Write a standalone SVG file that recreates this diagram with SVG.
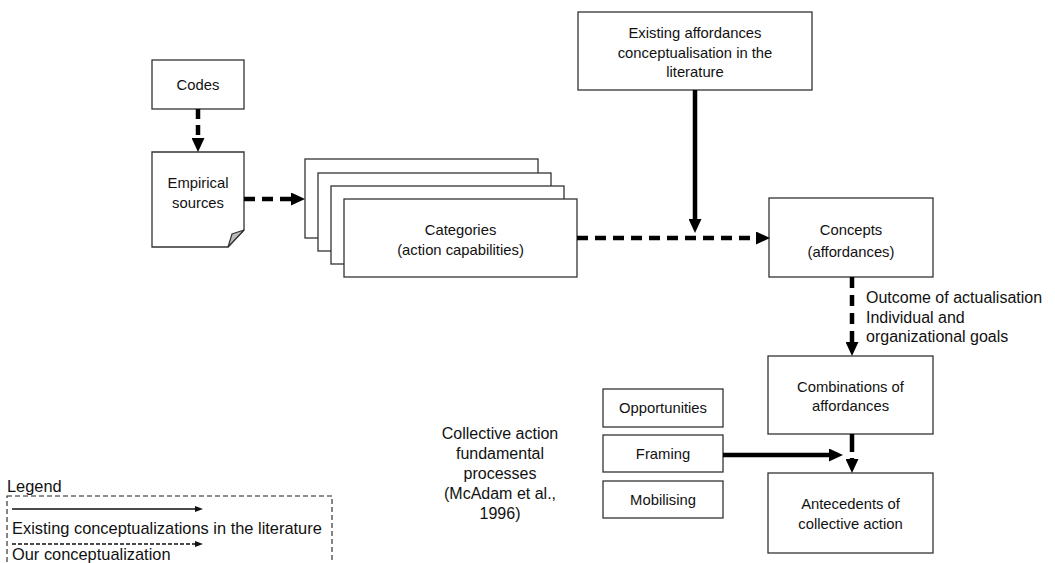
<svg xmlns="http://www.w3.org/2000/svg" width="1055" height="563" viewBox="0 0 1055 563">
<style>
.box{fill:#fff;stroke:#333;stroke-width:1.3}
.bt{font-family:"Liberation Sans",Arial,sans-serif;font-size:14.8px;fill:#111;text-anchor:middle}
.at{font-family:"Liberation Sans",Arial,sans-serif;font-size:16px;fill:#111}
.lt{font-size:16.4px}
.thick{fill:none;stroke:#000;stroke-width:4.5}
.dash{stroke-dasharray:11 7}
.thin{fill:none;stroke:#111;stroke-width:1.5}
</style>
<defs>
<marker id="ah" markerUnits="userSpaceOnUse" markerWidth="14" markerHeight="13" refX="4" refY="6.5" orient="auto">
<path d="M0,0 L14,6.5 L0,13 z" fill="#000"/>
</marker>
<marker id="ahs" markerUnits="userSpaceOnUse" markerWidth="8" markerHeight="6" refX="2" refY="3" orient="auto">
<path d="M0,0 L8,3 L0,6 z" fill="#111"/>
</marker>
</defs>
<rect width="1055" height="563" fill="#fff"/>

<g id="codes">
<rect class="box" x="152" y="60" width="92" height="49"/>
<text class="bt" x="198" y="90">Codes</text>
</g>

<g id="empirical">
<path class="box" d="M152,152 H244 V230 L228,247 H152 Z"/>
<path d="M244,230 L232,234 L228,247 Z" fill="#bbb" stroke="#333" stroke-width="1.2"/>
<text class="bt" x="198" y="188">Empirical</text>
<text class="bt" x="198" y="208">sources</text>
</g>

<g id="categories">
<rect class="box" x="305" y="159" width="233" height="79"/>
<rect class="box" x="318" y="173" width="233" height="78"/>
<rect class="box" x="331" y="186" width="233" height="78"/>
<rect class="box" x="344" y="199" width="233" height="78"/>
<text class="bt" x="460.5" y="235">Categories</text>
<text class="bt" x="460.5" y="255">(action capabilities)</text>
</g>

<g id="existing">
<rect class="box" x="578" y="12" width="234" height="78"/>
<text class="bt" x="695" y="38">Existing affordances</text>
<text class="bt" x="695" y="58">conceptualisation in the</text>
<text class="bt" x="695" y="77">literature</text>
</g>

<g id="concepts">
<rect class="box" x="769" y="198" width="164" height="79"/>
<text class="bt" x="851" y="235">Concepts</text>
<text class="bt" x="851" y="257">(affordances)</text>
</g>

<g id="combinations">
<rect class="box" x="768" y="356" width="165" height="78"/>
<text class="bt" x="850.5" y="392">Combinations of</text>
<text class="bt" x="850.5" y="411">affordances</text>
</g>

<g id="antecedents">
<rect class="box" x="768" y="473" width="165" height="80"/>
<text class="bt" x="850.5" y="509">Antecedents of</text>
<text class="bt" x="850.5" y="529">collective action</text>
</g>

<g id="opportunities">
<rect class="box" x="603" y="389" width="120" height="38"/>
<text class="bt" x="663" y="413">Opportunities</text>
</g>
<g id="framing">
<rect class="box" x="603" y="435" width="120" height="37"/>
<text class="bt" x="663" y="459">Framing</text>
</g>
<g id="mobilising">
<rect class="box" x="603" y="481" width="120" height="37"/>
<text class="bt" x="663" y="505">Mobilising</text>
</g>

<g id="collective-label">
<text class="at" text-anchor="middle" x="500" y="439">Collective action</text>
<text class="at" text-anchor="middle" x="500" y="459">fundamental</text>
<text class="at" text-anchor="middle" x="500" y="479">processes</text>
<text class="at" text-anchor="middle" x="500" y="499">(McAdam et al.,</text>
<text class="at" text-anchor="middle" x="500" y="519">1996)</text>
</g>

<g id="connectors">
<path class="thick" d="M198,109 V142" stroke-dasharray="10 6" marker-end="url(#ah)"/>
<path class="thick dash" d="M244,199 H295" marker-end="url(#ah)"/>
<path class="thick dash" d="M577,238 H760" marker-end="url(#ah)"/>
<path class="thick" d="M695,90 V223" marker-end="url(#ah)"/>
<path class="thick dash" d="M852,277 V346" marker-end="url(#ah)"/>
<text class="at" x="866" y="303">Outcome of actualisation</text>
<text class="at" x="866" y="323">Individual and</text>
<text class="at" x="866" y="342">organizational goals</text>
<path class="thick" d="M852,434 V463" stroke-dasharray="18 6" marker-end="url(#ah)"/>
<path class="thick" d="M723,455 H833" marker-end="url(#ah)"/>
</g>

<g id="legend">
<text class="at lt" x="7" y="492">Legend</text>
<rect x="7" y="496" width="325" height="72" fill="none" stroke="#222" stroke-width="1.1" stroke-dasharray="5 3"/>
<path class="thin" d="M12,509 H197" marker-end="url(#ahs)"/>
<text class="at lt" x="12" y="534">Existing conceptualizations in the literature</text>
<path class="thin" d="M12,544 H197" stroke-dasharray="4 2" marker-end="url(#ahs)"/>
<text class="at lt" x="12" y="560">Our conceptualization</text>
</g>
</svg>
